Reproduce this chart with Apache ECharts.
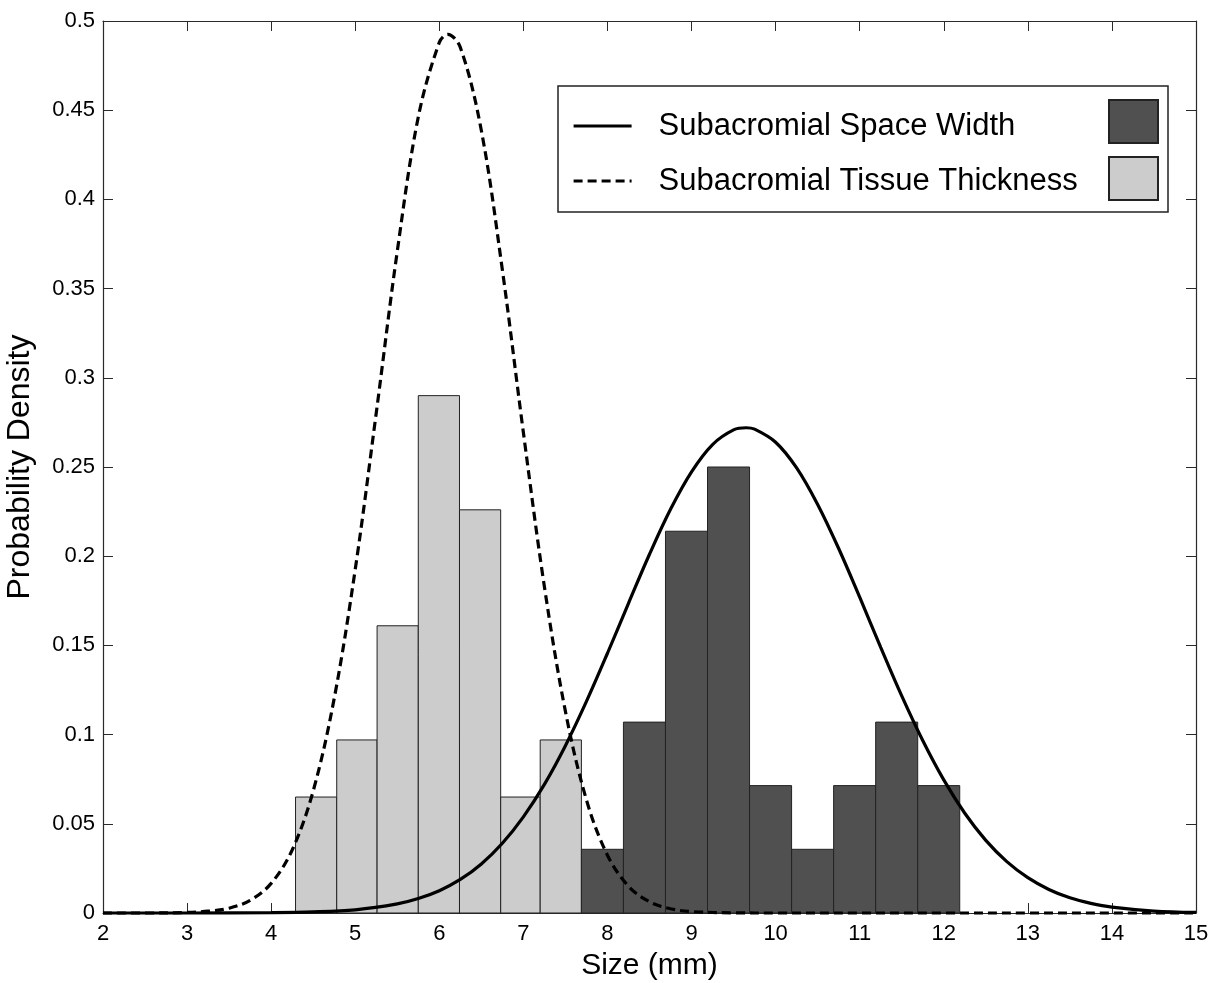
<!DOCTYPE html>
<html>
<head>
<meta charset="utf-8">
<script src="https://cdn.jsdelivr.net/npm/echarts@6/dist/echarts.min.js"></script>
<style>
  html, body { margin: 0; padding: 0; background: #fff; }
  #chart { width: 1216px; height: 983px; }
</style>
</head>
<body>
<div id="chart"></div>
<script>
// Histogram bins (mm) and probability densities
const tissueEdges = [4.29, 4.78, 5.26, 5.75, 6.24, 6.73, 7.20, 7.69];
const tissueDensity = [0.065, 0.097, 0.161, 0.290, 0.226, 0.065, 0.097];

const spaceEdges = [7.69, 8.19, 8.69, 9.19, 9.69, 10.19, 10.69, 11.19, 11.69, 12.19];
const spaceDensity = [0.0357, 0.107, 0.214, 0.250, 0.0714, 0.0357, 0.0714, 0.107, 0.0714];

// Fitted density curves sampled along the size axis
const tissueCurveX = [2, 2.5, 3, 3.25, 3.5, 3.75, 4, 4.25, 4.5, 4.75, 5, 5.25, 5.5, 5.75, 6, 6.1, 6.25, 6.5, 6.75, 7, 7.25, 7.5, 7.75, 8, 8.25, 8.5, 8.75, 9, 9.5, 10, 11, 12, 13, 14, 15];
const tissueCurveY = [0, 0, 0.0003, 0.0010, 0.0027, 0.0071, 0.0166, 0.0353, 0.0684, 0.1203, 0.1926, 0.2803, 0.3709, 0.4462, 0.4880, 0.4925, 0.4852, 0.4386, 0.3605, 0.2693, 0.1829, 0.1130, 0.0634, 0.0324, 0.0150, 0.0063, 0.0024, 0.0008, 0.0001, 0, 0, 0, 0, 0, 0];

const spaceCurveX = [2, 3, 4, 4.5, 5, 5.5, 5.75, 6, 6.25, 6.5, 6.75, 7, 7.25, 7.5, 7.75, 8, 8.25, 8.5, 8.75, 9, 9.25, 9.5, 9.65, 9.75, 10, 10.25, 10.5, 10.75, 11, 11.25, 11.5, 11.75, 12, 12.25, 12.5, 12.75, 13, 13.25, 13.5, 13.75, 14, 14.5, 15];
const spaceCurveY = [0, 0, 0.0002, 0.0006, 0.0018, 0.0051, 0.0081, 0.0125, 0.0188, 0.0275, 0.0391, 0.0539, 0.0721, 0.0938, 0.1186, 0.1456, 0.1736, 0.2011, 0.2263, 0.2473, 0.2626, 0.2708, 0.2720, 0.2712, 0.2639, 0.2495, 0.2290, 0.2043, 0.1770, 0.1489, 0.1217, 0.0967, 0.0746, 0.0559, 0.0407, 0.0288, 0.0198, 0.0132, 0.0085, 0.0054, 0.0033, 0.0011, 0.0003];

// Tick labels
const xTickLabels = ['2', '3', '4', '5', '6', '7', '8', '9', '10', '11', '12', '13', '14', '15'];
const yTickLabels = ['0', '0.05', '0.1', '0.15', '0.2', '0.25', '0.3', '0.35', '0.4', '0.45', '0.5'];

const nameSpace = 'Subacromial Space Width';
const nameTissue = 'Subacromial Tissue Thickness';

function binData(edges, dens) {
  return dens.map((d, i) => [edges[i], edges[i + 1], d]);
}
function pairs(xs, ys) {
  return xs.map((x, i) => [x, ys[i]]);
}

function renderBin(params, api) {
  const p0 = api.coord([api.value(0), api.value(2)]);
  const p1 = api.coord([api.value(1), 0]);
  return {
    type: 'rect',
    shape: { x: p0[0], y: p0[1], width: p1[0] - p0[0], height: p1[1] - p0[1] },
    style: api.style()
  };
}

const FONT = 'Liberation Sans, Arial, sans-serif';
const AXIS_COLOR = '#2a2a2a';

const chart = echarts.init(document.getElementById('chart'), null, { renderer: 'canvas' });

const tickCommon = { show: true, inside: true, length: 10, lineStyle: { color: AXIS_COLOR, width: 1 } };

chart.setOption({
  animation: false,
  backgroundColor: '#fff',
  grid: { left: 103, right: 20, top: 21, bottom: 70, containLabel: false, outerBoundsMode: 'none' },
  xAxis: [
    {
      type: 'value', min: 2, max: 15, interval: 1,
      name: 'Size (mm)', nameLocation: 'middle', nameGap: 38,
      nameTextStyle: { fontFamily: FONT, fontSize: 30, color: '#000', verticalAlign: 'top' },
      axisLine: { show: true, onZero: false, lineStyle: { color: AXIS_COLOR, width: 1.2 } },
      axisTick: tickCommon,
      axisLabel: {
        fontFamily: FONT, fontSize: 22, color: '#000', margin: 10,
        formatter: v => xTickLabels.find(t => Math.abs(+t - v) < 1e-9) || ''
      },
      splitLine: { show: false }
    },
    {
      type: 'value', min: 2, max: 15, interval: 1, position: 'top',
      axisLine: { show: true, onZero: false, lineStyle: { color: AXIS_COLOR, width: 1.2 } },
      axisTick: tickCommon,
      axisLabel: { show: false },
      splitLine: { show: false }
    }
  ],
  yAxis: [
    {
      type: 'value', min: 0, max: 0.5, interval: 0.05,
      name: 'Probability Density', nameLocation: 'middle', nameGap: 67,
      nameTextStyle: { fontFamily: FONT, fontSize: 32, color: '#000' },
      axisLine: { show: true, onZero: false, lineStyle: { color: AXIS_COLOR, width: 1.2 } },
      axisTick: tickCommon,
      axisLabel: {
        fontFamily: FONT, fontSize: 22, color: '#000', margin: 8,
        formatter: v => yTickLabels.find(t => Math.abs(+t - v) < 1e-9) || ''
      },
      splitLine: { show: false }
    },
    {
      type: 'value', min: 0, max: 0.5, interval: 0.05, position: 'right',
      axisLine: { show: true, onZero: false, lineStyle: { color: AXIS_COLOR, width: 1.2 } },
      axisTick: tickCommon,
      axisLabel: { show: false },
      splitLine: { show: false }
    }
  ],
  graphic: [
    {
      type: 'rect', z: 5,
      shape: { x: 558, y: 86, width: 610, height: 126 },
      style: { fill: '#fff', stroke: '#222', lineWidth: 1.5 }
    }
  ],
  legend: [
    {
      data: [nameSpace, nameTissue],
      orient: 'vertical', left: 572, top: 108, padding: 0, z: 10,
      itemWidth: 58, itemHeight: 14, itemGap: 19,
      itemStyle: { opacity: 0 },
      lineStyle: { width: 3.2 },
      textStyle: { fontFamily: FONT, fontSize: 31, color: '#000', padding: [0, 0, 0, 22], lineHeight: 36 },
      selectedMode: false
    },
    {
      data: [{ name: 'space-hist', icon: 'rect' }, { name: 'tissue-hist', icon: 'rect' }],
      orient: 'vertical', left: 1108, top: 99, padding: 0, z: 10,
      itemWidth: 49, itemHeight: 43, itemGap: 12,
      formatter: () => '',
      textStyle: { fontSize: 1 },
      selectedMode: false
    }
  ],
  series: [
    {
      name: 'tissue-hist', type: 'custom', renderItem: renderBin,
      encode: { x: [0, 1], y: 2 },
      itemStyle: { color: '#cccccc', borderColor: '#222', borderWidth: 1 },
      data: binData(tissueEdges, tissueDensity), z: 1
    },
    {
      name: 'space-hist', type: 'custom', renderItem: renderBin,
      encode: { x: [0, 1], y: 2 },
      itemStyle: { color: '#505050', borderColor: '#222', borderWidth: 1 },
      data: binData(spaceEdges, spaceDensity), z: 1
    },
    {
      name: nameSpace, type: 'line', smooth: 0.35, symbol: 'none', clip: false,
      lineStyle: { color: '#000', width: 3.2, type: 'solid' },
      itemStyle: { color: '#000' },
      data: pairs(spaceCurveX, spaceCurveY), z: 3
    },
    {
      name: nameTissue, type: 'line', smooth: 0.35, symbol: 'none', clip: false,
      lineStyle: { color: '#000', width: 3.2, type: [9, 5] },
      itemStyle: { color: '#000' },
      data: pairs(tissueCurveX, tissueCurveY), z: 3
    }
  ]
});
</script>
</body>
</html>
